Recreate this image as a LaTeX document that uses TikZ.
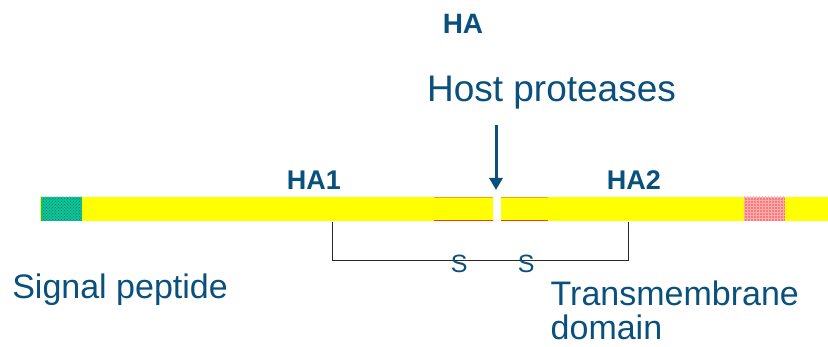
\documentclass[tikz,border=0pt]{standalone}
\usepackage{fontspec}
\setmainfont{Liberation Sans}
\usetikzlibrary{arrows.meta,patterns}
\definecolor{labelblue}{RGB}{10,80,125}
\definecolor{baryellow}{RGB}{255,255,0}
\definecolor{sigteal}{RGB}{16,195,150}
\definecolor{sigdot}{RGB}{0,130,100}
\definecolor{tmpink}{RGB}{255,120,120}
\definecolor{tmgrid}{RGB}{255,175,175}
\definecolor{edgeorange}{RGB}{255,160,0}
\definecolor{edgered}{RGB}{255,60,0}
\definecolor{bracketgray}{RGB}{40,40,40}
\tikzset{
  lbl/.style={text=labelblue, inner sep=0pt, outer sep=0pt},
  bigtxt/.style={lbl, font=\fontsize{34}{36}\selectfont},
  boldtxt/.style={lbl, font=\fontsize{27}{30}\selectfont\bfseries},
  smalltxt/.style={lbl, font=\fontsize{25}{28}\selectfont},
}
\begin{document}
\begin{tikzpicture}[x=1pt,y=-1pt]
\useasboundingbox (0,0) rectangle (828,347);
% yellow polypeptide bar, interrupted at the cleavage site
\fill[baryellow] (40,197) rectangle (493,221);
\fill[baryellow] (501,197) rectangle (828,221);
% signal peptide block
\fill[sigteal] (41,197) rectangle (82,221);
\fill[pattern=crosshatch dots, pattern color=sigdot] (41,197) rectangle (82,221);
% transmembrane block
\fill[tmpink] (744,197) rectangle (785,221);
\fill[pattern=grid, pattern color=tmgrid] (744,197) rectangle (785,221);
% cleavage-loop edges
\draw[edgeorange, line width=1pt] (434,197.5) -- (493,197.5) (501,197.5) -- (548,197.5);
\draw[edgered, line width=1.2pt] (434,220.5) -- (493,220.5) (501,220.5) -- (548,220.5);

% labels
\node[lbl, font=\fontsize{28}{30}\selectfont\bfseries, anchor=base] (ha) at (463,33.3) {HA};
\node[lbl, font=\fontsize{37}{40}\selectfont, anchor=base] (host) at (551.5,101.7) {Host proteases};
\node[boldtxt, anchor=base] (ha1) at (314,190) {HA1};
\node[boldtxt, anchor=base] (ha2) at (634,190) {HA2};
\node[bigtxt, anchor=base west] (sig) at (12.3,299) {Signal peptide};
\node[bigtxt, anchor=base west] (tm1) at (550.7,306) {Transmembrane};
\node[bigtxt, anchor=base west] (tm2) at (550.7,340) {domain};

% protease arrow to the cleavage site
\coordinate (arrtop) at (496,125);
\coordinate (cut) at (496,190);
\draw[labelblue, line width=3pt, -{Triangle[length=12pt,width=13pt]}] (arrtop) -- (cut);

% disulfide bracket linking HA1 and HA2
\coordinate (bl) at (332.3,222);
\coordinate (br) at (628.3,222);
\draw[bracketgray, line width=1.3pt] (bl) -- ++(0,38.7) -| (br);
\node[smalltxt, anchor=base] (s1) at (459.2,273) {S};
\node[smalltxt, anchor=base] (s2) at (526.2,273) {S};
\end{tikzpicture}
\end{document}
